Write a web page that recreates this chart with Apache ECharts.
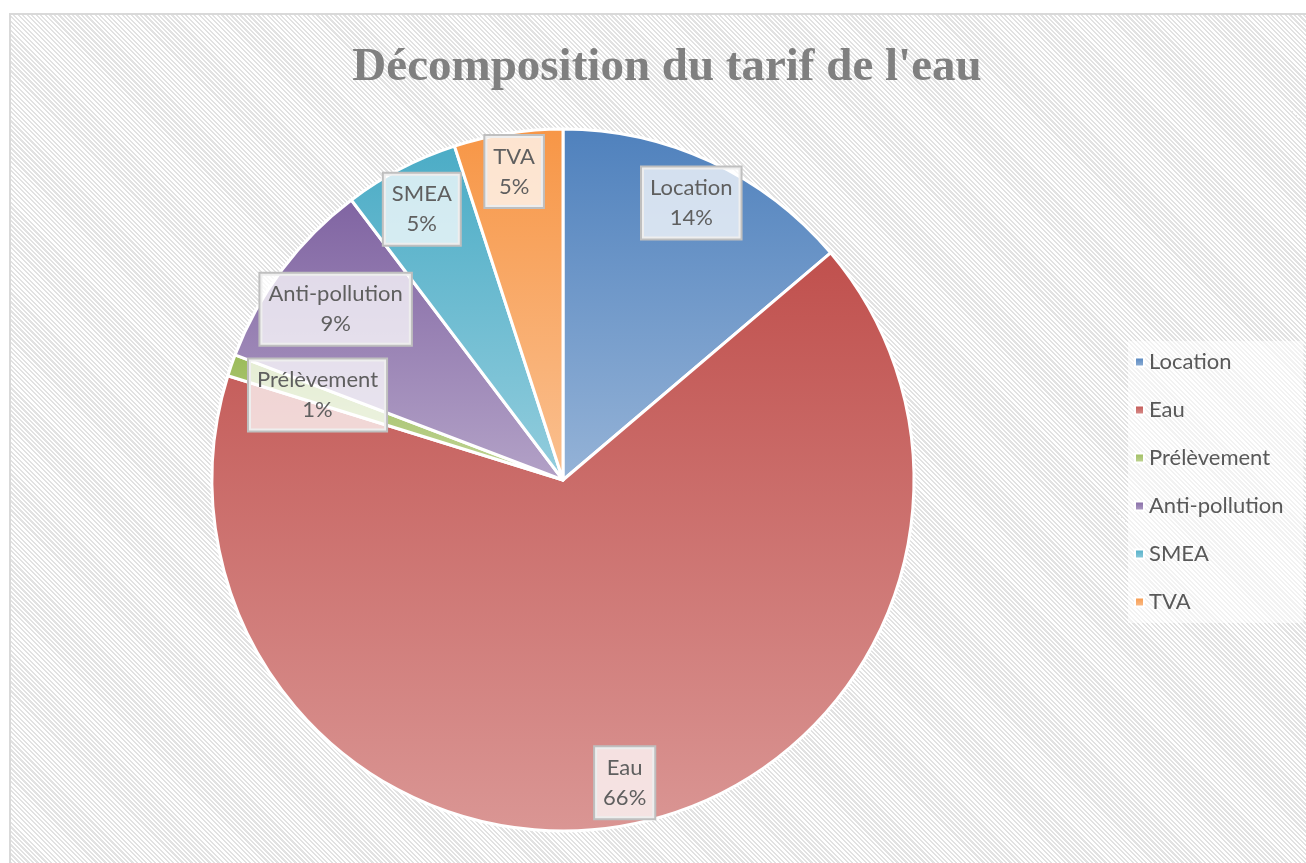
<!DOCTYPE html>
<html>
<head>
<meta charset="utf-8">
<script src="https://cdn.jsdelivr.net/npm/echarts@6/dist/echarts.min.js"></script>
<style>
html,body{margin:0;padding:0;background:#fff;width:1306px;height:863px;overflow:hidden;}
#frame{position:absolute;left:9px;top:13px;width:1310px;height:860px;border:2px solid #d9d9d9;box-sizing:border-box;
background:repeating-linear-gradient(45deg,#ffffff 0px,#ffffff 1.6px,#e2e2e2 1.6px,#e2e2e2 3.2px);}
#chart{position:absolute;left:0;top:0;width:1306px;height:863px;}
</style>
</head>
<body>
<div id="frame"></div>
<div id="chart"></div>
<script>
const categories = ['Location', 'Eau', 'Prélèvement', 'Anti-pollution', 'SMEA', 'TVA'];
const values = [13.8, 66.0, 1.0, 8.9, 5.3, 5.0];

const topColors = ['#4f81bd', '#c0504d', '#9bbb59', '#8064a2', '#4bacc6', '#f79646'];
const bottomColors = ['#95b3d7', '#da9694', '#c3d69b', '#b3a2c7', '#93cddd', '#fac090'];
const labelRadiusFrac = [0.87, 0.88, 0.74, 0.81, 0.87, 0.89];

const CX = 563, CY = 480, R = 351;
const total = values.reduce((a, b) => a + b, 0);
const midAngles = [];
let acc = 0;
values.forEach(v => { midAngles.push((acc + v / 2) / total * 2 * Math.PI); acc += v; });

const chart = echarts.init(document.getElementById('chart'), null, {renderer: 'canvas'});
chart.setOption({
  backgroundColor: 'transparent',
  title: {
    text: "Décomposition du tarif de l'eau",
    left: 662, top: 39, textAlign: 'center',
    textStyle: {fontFamily: 'Liberation Serif', fontWeight: 'bold', fontSize: 47, color: '#808080'}
  },
  legend: {
    orient: 'vertical', left: 1128, top: 341,
    itemWidth: 9, itemHeight: 9, itemGap: 26, icon: 'rect',
    padding: [10, 20, 10, 6],
    backgroundColor: 'rgba(255,255,255,0.55)',
    textStyle: {fontFamily: 'Lato', fontSize: 22, color: '#595959', padding: [0, 0, 0, 0]},
    data: categories
  },
  series: [{
    type: 'pie',
    center: [CX, CY], radius: R,
    startAngle: 90, clockwise: true,
    percentPrecision: 0,
    avoidLabelOverlap: false,
    itemStyle: {borderColor: '#fff', borderWidth: 3},
    label: {
      show: true, position: 'inside',
      formatter: '{b}\n{d}%',
      fontFamily: 'Lato', fontSize: 22, color: '#5f5f5f', lineHeight: 30,
      backgroundColor: 'rgba(255,255,255,0.74)',
      borderColor: '#bfbfbf', borderWidth: 2,
      padding: [6, 8, 5, 8]
    },
    labelLine: {show: false},
    labelLayout: function (p) {
      const i = p.dataIndex;
      const a = midAngles[i];
      const d = labelRadiusFrac[i] * R;
      return {x: CX + d * Math.sin(a), y: CY - d * Math.cos(a), align: 'center', verticalAlign: 'middle'};
    },
    emphasis: {disabled: true},
    data: categories.map((c, i) => ({
      name: c, value: values[i],
      itemStyle: {color: new echarts.graphic.LinearGradient(0, 0, 0, 1, [
        {offset: 0, color: topColors[i]}, {offset: 1, color: bottomColors[i]}])}
    }))
  }]
});
</script>
</body>
</html>
